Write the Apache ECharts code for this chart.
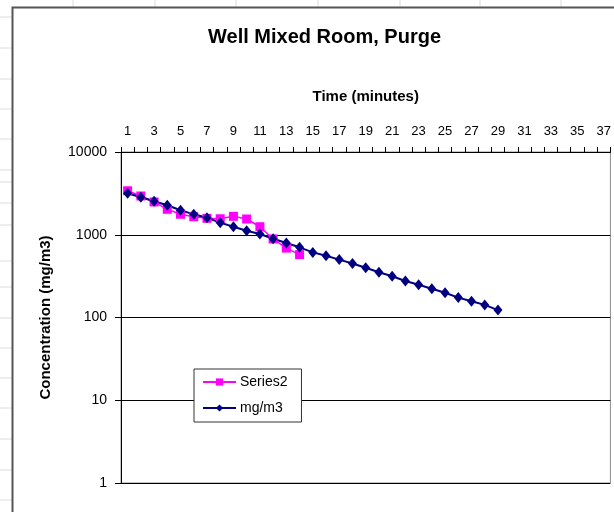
<!DOCTYPE html>
<html>
<head>
<meta charset="utf-8">
<script src="https://cdn.jsdelivr.net/npm/echarts@6/dist/echarts.min.js"></script>
<style>
  html, body { margin: 0; padding: 0; background: #fff; }
  #chart { width: 614px; height: 512px; }
</style>
</head>
<body>
<div id="chart"></div>
<script>
'use strict';

// time in minutes, 1..37
const minutes = [];
for (let i = 1; i <= 37; i++) minutes.push(String(i));

// measured concentrations (mg/m3), minutes 1..14
const series2 = [3400, 2940, 2490, 2030, 1770, 1650, 1580, 1560, 1670, 1550, 1250, 890, 690, 575];

// modelled concentration (mg/m3), minutes 1..29
const mgm3 = [3170, 2835, 2540, 2270, 1975, 1765, 1605, 1400, 1250, 1120,
              1020, 895, 795, 705, 612, 557, 501, 449, 399, 352,
              315, 276, 249, 223, 199, 174, 157, 142, 123];

const yTicks = [1, 10, 100, 1000, 10000];

const FONT = 'Liberation Sans, Arial, sans-serif';

// spreadsheet rows / columns peeking around the chart object
const rowLines = [17, 48, 79, 109, 139, 170, 182, 203, 225, 261, 287, 318, 348, 378, 408, 439, 470, 500];
const colLines = [73, 155, 236, 318, 400, 480, 561];

const bg = [];
rowLines.forEach(y => bg.push({
    type: 'line', z: -10, silent: true,
    shape: { x1: 0, y1: y, x2: 12, y2: y },
    style: { stroke: '#dcdcdc', lineWidth: 1 }
}));
colLines.forEach(x => bg.push({
    type: 'line', z: -10, silent: true,
    shape: { x1: x, y1: 0, x2: x, y2: 7 },
    style: { stroke: '#dcdcdc', lineWidth: 1 }
}));
bg.push({
    type: 'rect', z: -9, silent: true,
    shape: { x: 12.5, y: 7.5, width: 620, height: 520 },
    style: { fill: '#fff', stroke: '#555', lineWidth: 2 }
});

const chart = echarts.init(document.getElementById('chart'), null, { renderer: 'canvas' });

chart.setOption({
    animation: false,
    backgroundColor: '#fff',
    textStyle: { fontFamily: FONT },
    graphic: bg,
    title: {
        text: 'Well Mixed Room, Purge',
        left: 208,
        top: 27,
        padding: 0,
        textStyle: { fontFamily: FONT, fontSize: 20, fontWeight: 'bold', color: '#000' }
    },
    legend: {
        orient: 'vertical',
        left: 194,
        top: 369,
        padding: [6, 14, 7, 8],
        itemWidth: 33,
        itemHeight: 9,
        itemGap: 12,
        backgroundColor: '#fff',
        borderColor: '#333',
        borderWidth: 1,
        borderRadius: 0,
        textStyle: { fontFamily: FONT, fontSize: 14, color: '#000', padding: [0, 0, 0, -1] },
        data: ['Series2', 'mg/m3']
    },
    grid: {
        left: 121, top: 152, width: 490, height: 331,
        show: true, borderColor: '#8c8c8c', borderWidth: 1, backgroundColor: 'transparent'
    },
    xAxis: {
        type: 'category',
        position: 'top',
        data: minutes,
        boundaryGap: true,
        name: 'Time (minutes)',
        nameLocation: 'middle',
        nameGap: 48,
        nameTextStyle: { fontFamily: FONT, fontSize: 15, fontWeight: 'bold', color: '#000' },
        axisLine: { show: true, lineStyle: { color: '#000', width: 1 } },
        axisTick: { show: true, interval: 0, length: 5, lineStyle: { color: '#000', width: 1 } },
        axisLabel: { interval: 1, margin: 14, fontSize: 13, color: '#000', fontFamily: FONT },
        splitLine: { show: false }
    },
    yAxis: {
        type: 'log',
        logBase: 10,
        min: yTicks[0],
        max: yTicks[yTicks.length - 1],
        name: 'Concentration (mg/m3)',
        nameLocation: 'middle',
        nameRotate: 90,
        nameGap: 68,
        nameTextStyle: { fontFamily: FONT, fontSize: 15, fontWeight: 'bold', color: '#000' },
        axisLine: { show: true, lineStyle: { color: '#000', width: 1 } },
        axisTick: { show: true, length: 6, lineStyle: { color: '#000', width: 1 } },
        axisLabel: {
            margin: 14, fontSize: 14, color: '#000', fontFamily: FONT,
            formatter: v => String(Math.round(v))
        },
        splitLine: { show: true, lineStyle: { color: '#000', width: 1 } },
        minorTick: { show: false }
    },
    series: [
        {
            name: 'Series2',
            type: 'line',
            data: series2,
            symbol: 'rect',
            symbolSize: 9,
            showAllSymbol: true,
            smooth: false,
            color: '#ff00ff',
            lineStyle: { color: '#ff00ff', width: 1.5 },
            itemStyle: { color: '#ff00ff' }
        },
        {
            name: 'mg/m3',
            type: 'line',
            data: mgm3,
            symbol: 'diamond',
            symbolSize: [9, 11],
            showAllSymbol: true,
            smooth: false,
            color: '#000080',
            lineStyle: { color: '#000080', width: 2 },
            itemStyle: { color: '#000080' }
        }
    ]
});
</script>
</body>
</html>
